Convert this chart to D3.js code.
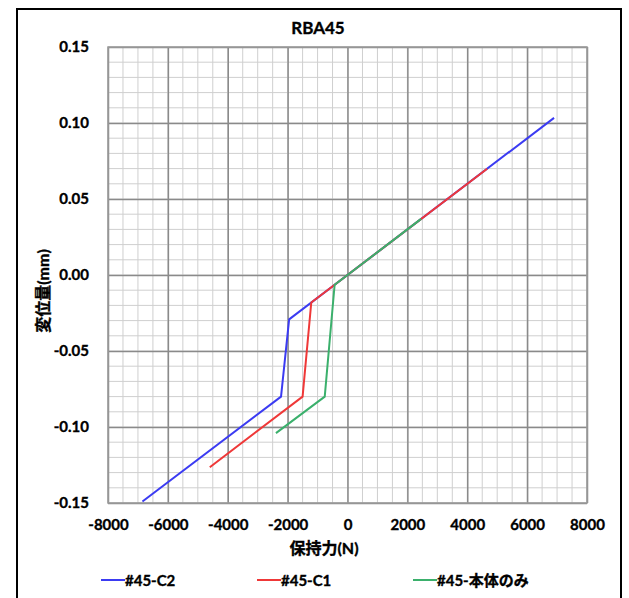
<!DOCTYPE html>
<html>
<head>
<meta charset="utf-8">
<script src="https://cdn.jsdelivr.net/npm/d3@7"></script>
<style>
  html, body { margin: 0; padding: 0; background: #fff; }
  svg { display: block; }
  text { font-family: Lato, "Noto Sans CJK JP", sans-serif; font-weight: bold; fill: #000; stroke: #000; stroke-width: 0.35px; }
</style>
</head>
<body>
<svg id="chart" width="629" height="598"></svg>
<script>
// Chart title and axis titles
const chartTitle = "RBA45";
const xTitle = "保持力(N)";
const yTitle = "変位量(mm)";

// Series: holding force (N) vs displacement (mm)
const seriesNames = ["#45-C2", "#45-C1", "#45-本体のみ"];
const seriesColors = ["#3b3bf2", "#ef3838", "#3bb06c"];

const forceC2 = [-6850, -2220, -1950, 0, 6900];
const dispC2  = [-0.149, -0.080, -0.0292, 0, 0.1034];

const forceC1 = [-4600, -1500, -1210, 0, 4665];
const dispC1  = [-0.1265, -0.080, -0.0181, 0, 0.0699];

const forceBody = [-2390, -760, -430, 0, 2460];
const dispBody  = [-0.104, -0.080, -0.0064, 0, 0.0369];

// Tick values
const xTicks = [-8000, -6000, -4000, -2000, 0, 2000, 4000, 6000, 8000];
const yTicks = [-0.15, -0.10, -0.05, 0.00, 0.05, 0.10, 0.15];

const series = [
  { name: seriesNames[0], color: seriesColors[0], x: forceC2, y: dispC2 },
  { name: seriesNames[1], color: seriesColors[1], x: forceC1, y: dispC1 },
  { name: seriesNames[2], color: seriesColors[2], x: forceBody, y: dispBody }
];

const svg = d3.select("#chart");
const W = 629, H = 598;
const plot = { left: 108, right: 587, top: 47, bottom: 503 };

svg.append("rect").attr("width", W).attr("height", H).attr("fill", "#fff");

// outer chart frame
svg.append("rect")
  .attr("x", 17).attr("y", 9)
  .attr("width", 604).attr("height", 600)
  .attr("fill", "none").attr("stroke", "#000").attr("stroke-width", 2);

const x = d3.scaleLinear().domain([-8000, 8000]).range([plot.left, plot.right]);
const y = d3.scaleLinear().domain([-0.15, 0.15]).range([plot.bottom, plot.top]);

// plain hyphen-minus for negative labels
const hyphen = f => d => f(d).replace("\u2212", "-");

// minor grid
const g = svg.append("g");
g.selectAll("line.xminor")
  .data(d3.range(-8000, 8001, 500))
  .join("line")
  .attr("x1", d => x(d)).attr("x2", d => x(d))
  .attr("y1", plot.top).attr("y2", plot.bottom)
  .attr("stroke", "#cfcfcf").attr("stroke-width", 1);
g.selectAll("line.yminor")
  .data(d3.range(-15, 16, 1).map(v => v / 100))
  .join("line")
  .attr("y1", d => y(d)).attr("y2", d => y(d))
  .attr("x1", plot.left).attr("x2", plot.right)
  .attr("stroke", "#cfcfcf").attr("stroke-width", 1);

// major grid via axes
const xGrid = d3.axisBottom(x).tickValues(xTicks).tickSize(-(plot.bottom - plot.top)).tickFormat("");
const yGrid = d3.axisLeft(y).tickValues(yTicks).tickSize(-(plot.right - plot.left)).tickFormat("");
svg.append("g").attr("transform", `translate(0,${plot.bottom})`).call(xGrid)
  .call(s => s.select(".domain").remove())
  .call(s => s.selectAll("line").attr("stroke", "#8a8a8a").attr("stroke-width", 1.5));
svg.append("g").attr("transform", `translate(${plot.left},0)`).call(yGrid)
  .call(s => s.select(".domain").remove())
  .call(s => s.selectAll("line").attr("stroke", "#8a8a8a").attr("stroke-width", 1.5));

svg.append("rect")
  .attr("x", plot.left).attr("y", plot.top)
  .attr("width", plot.right - plot.left).attr("height", plot.bottom - plot.top)
  .attr("fill", "none").attr("stroke", "#9a9a9a").attr("stroke-width", 1.5);

// tick labels
const tickStyle = s => s.selectAll("text")
  .style("font-size", "15px").style("font-family", "Lato, sans-serif")
  .style("font-weight", "bold").attr("fill", "#000");
const xAxis = d3.axisBottom(x).tickValues(xTicks).tickSize(0).tickPadding(16)
  .tickFormat(hyphen(d3.format("d")));
svg.append("g").attr("transform", `translate(0,${plot.bottom})`).call(xAxis)
  .call(s => s.select(".domain").remove())
  .call(tickStyle);
const yAxis = d3.axisLeft(y).tickValues(yTicks).tickSize(0).tickPadding(19)
  .tickFormat(hyphen(d3.format(".2f")));
svg.append("g").attr("transform", `translate(${plot.left},0)`).call(yAxis)
  .call(s => s.select(".domain").remove())
  .call(tickStyle);

// series lines
const line = d3.line().x(d => x(d[0])).y(d => y(d[1]));
svg.append("g").selectAll("path")
  .data(series)
  .join("path")
  .attr("d", s => line(s.x.map((v, i) => [v, s.y[i]])))
  .attr("fill", "none")
  .attr("stroke", s => s.color)
  .attr("stroke-width", 2)
  .attr("stroke-linejoin", "round");

// titles
svg.append("text").attr("x", 318).attr("y", 34).attr("text-anchor", "middle")
  .style("font-size", "17px").text(chartTitle);
svg.append("text").attr("x", 324).attr("y", 554).attr("text-anchor", "middle")
  .style("font-size", "16px").text(xTitle);
svg.append("text").attr("transform", "translate(49,291) rotate(-90)").attr("text-anchor", "middle")
  .style("font-size", "16px").text(yTitle);

// legend
const legendX = [101, 257, 413];
const legendLen = 24;
const legend = svg.append("g").selectAll("g")
  .data(series)
  .join("g")
  .attr("transform", (d, i) => `translate(${legendX[i]},580)`);
legend.append("line")
  .attr("x1", 0).attr("x2", legendLen)
  .attr("y1", 0).attr("y2", 0)
  .attr("stroke", d => d.color).attr("stroke-width", 2);
legend.append("text")
  .attr("x", legendLen).attr("y", 5.5)
  .style("font-size", "15px")
  .text(d => d.name);
</script>
</body>
</html>
